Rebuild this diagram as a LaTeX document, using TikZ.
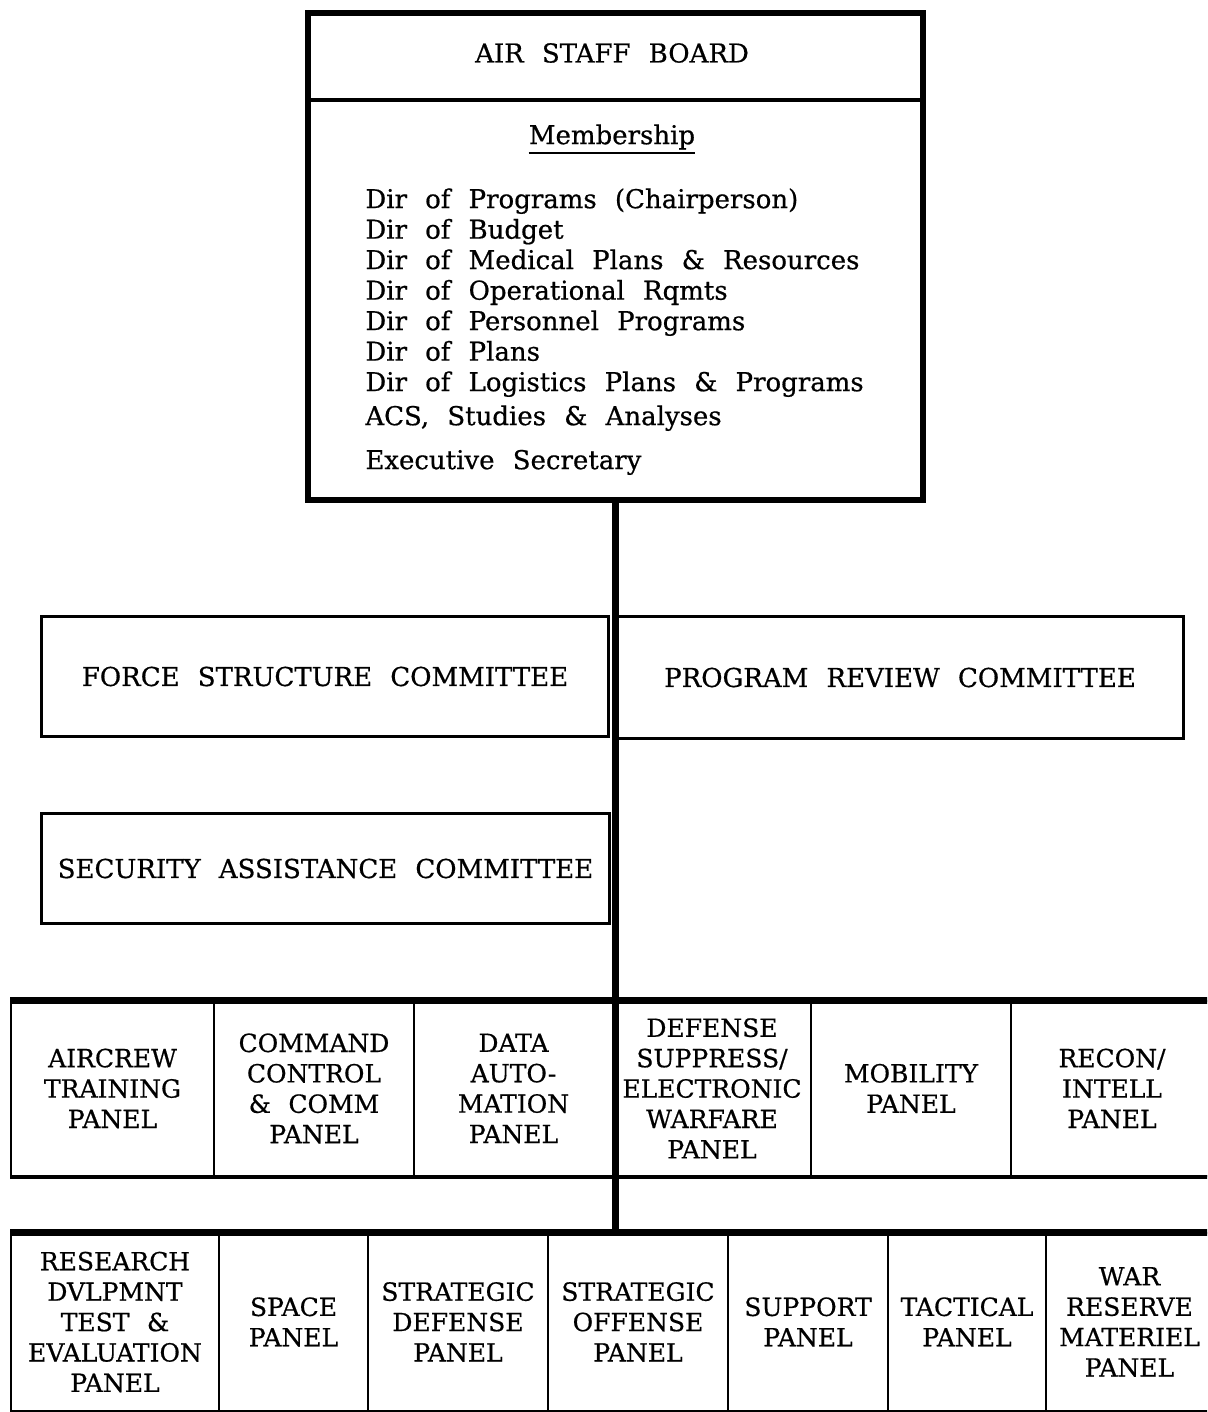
\documentclass[tikz,border=0pt]{standalone}
\usepackage{fontspec}
\setmainfont{DejaVu Serif}[WordSpace=2.2, FakeBold=0.6]

\newcommand{\chartfont}{\fontsize{13}{15.25}\selectfont}
\newcommand{\panelfont}{\fontsize{12.5}{15.2}\selectfont}

\begin{document}
\begin{tikzpicture}[x=0.5pt, y=-0.5pt, font=\chartfont,
	box/.style={draw, line width=1.5pt, inner sep=0pt, anchor=north west, align=center},
	cell/.style={draw, line width=1pt, inner sep=0pt, anchor=north west, align=center, font=\panelfont},
	heavy/.style={line width=3.5pt},
	trunk/.style={line width=3.5pt}]

	\useasboundingbox (0,0) rectangle (1207,1412);
	\clip (0,0) rectangle (1207,1412);

	% board at the top
	\node[draw, line width=3pt, anchor=north west, inner sep=0pt, minimum width=307.5pt, minimum height=243.5pt] (board) at (305,10) {};
	\coordinate (split) at (612,100);
	\draw[line width=2pt] (board.west |- split) -- (board.east |- split);
	\node (title) at (612,53) {AIR STAFF BOARD};
	\node[inner sep=0pt] (memb) at (612,137) {Membership};
	\draw[line width=0.8pt] ([yshift=-4.5pt]memb.base west) -- ([yshift=-4.5pt]memb.base east);
	\node[anchor=north west, inner sep=0pt, align=left] (members) at (365,188) {%
		Dir of Programs (Chairperson)\\
		Dir of Budget\\
		Dir of Medical Plans \& Resources\\
		Dir of Operational Rqmts\\
		Dir of Personnel Programs\\
		Dir of Plans\\
		Dir of Logistics Plans \& Programs\\[1.75pt]
		ACS, Studies \& Analyses\\[6.75pt]
		Executive Secretary};

	% committees
	\node[box, minimum width=283.5pt, minimum height=60pt] (force) at (40,615) {FORCE STRUCTURE COMMITTEE};
	\node[box, minimum width=283.5pt, minimum height=61pt] (review) at (615,615) {PROGRAM REVIEW COMMITTEE};
	\node[box, minimum width=284pt, minimum height=55pt] (secur) at (40,812) {SECURITY ASSISTANCE COMMITTEE};

	% first row of panels
	\node[cell, minimum width=101.5pt, minimum height=87.5pt] (aircrew) at (10,1000) {AIRCREW\\TRAINING\\PANEL};
	\node[cell, minimum width=100pt, minimum height=87.5pt] (command) at (213,1000) {COMMAND\\CONTROL\\\& COMM\\PANEL};
	\node[cell, minimum width=99.5pt, minimum height=87.5pt] (data) at (413,1000) {DATA\\AUTO-\\MATION\\PANEL};
	\node[cell, minimum width=99pt, minimum height=87.5pt] (defsup) at (612,1000) {DEFENSE\\SUPPRESS/\\ELECTRONIC\\WARFARE\\PANEL};
	\node[cell, minimum width=100pt, minimum height=87.5pt] (mobility) at (810,1000) {MOBILITY\\PANEL};
	\node[cell, minimum width=101pt, minimum height=87.5pt] (recon) at (1010,1000) {RECON/\\INTELL\\PANEL};
	\draw[heavy] (aircrew.north west) -- (recon.north east);
	\draw[line width=2pt] (aircrew.south west) -- (recon.south east);

	% second row of panels
	\node[cell, minimum width=104pt, minimum height=89pt] (research) at (10,1232) {RESEARCH\\DVLPMNT\\TEST \&\\EVALUATION\\PANEL};
	\node[cell, minimum width=74.5pt, minimum height=89pt] (space) at (218,1232) {SPACE\\PANEL};
	\node[cell, minimum width=90pt, minimum height=89pt] (stratdef) at (367,1232) {STRATEGIC\\DEFENSE\\PANEL};
	\node[cell, minimum width=90pt, minimum height=89pt] (stratoff) at (547,1232) {STRATEGIC\\OFFENSE\\PANEL};
	\node[cell, minimum width=80pt, minimum height=89pt] (support) at (727,1232) {SUPPORT\\PANEL};
	\node[cell, minimum width=79pt, minimum height=89pt] (tactical) at (887,1232) {TACTICAL\\PANEL};
	\node[cell, minimum width=83.5pt, minimum height=89pt] (warres) at (1045,1232) {WAR\\RESERVE\\MATERIEL\\PANEL};
	\draw[heavy] (research.north west) -- (warres.north east);

	% main line down the middle
	\draw[trunk] (board.south) -- (board.south |- research.north);

\end{tikzpicture}
\end{document}
